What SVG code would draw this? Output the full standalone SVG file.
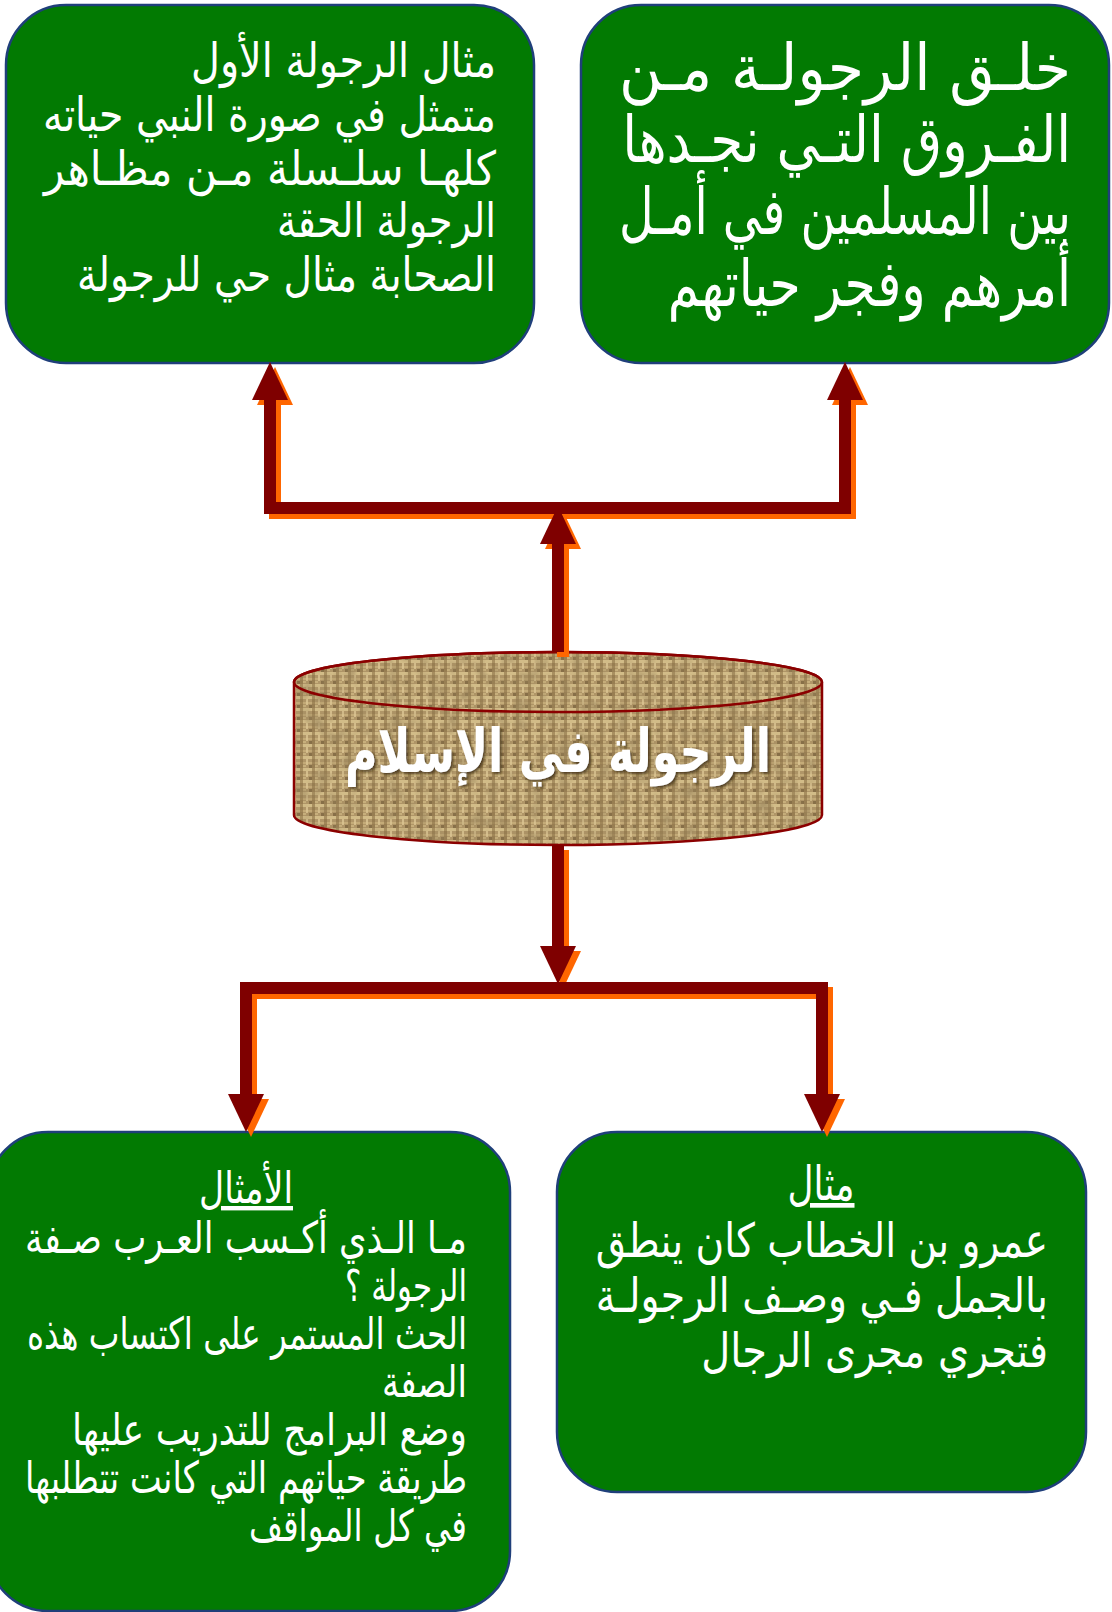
<svg xmlns="http://www.w3.org/2000/svg" width="1112" height="1612" viewBox="0 0 1112 1612">
<style>
.box{fill:#027A02;stroke:#1F3F7A;stroke-width:2.5}
.t{fill:#fff;font-family:"DejaVu Sans",sans-serif;direction:rtl;text-anchor:start}
.c{text-anchor:middle;text-decoration:underline}
.dk{fill:none;stroke:#7F0000;stroke-width:12}
.or{fill:none;stroke:#FF6600;stroke-width:12}
</style>
<defs>
<marker id="ahD" viewBox="0 -18 38 36" refX="0" refY="0" markerWidth="38" markerHeight="36" markerUnits="userSpaceOnUse" orient="auto-start-reverse"><path d="M0,-18 L38,0 L0,18 Z" fill="#7F0000"/></marker>
<marker id="ahO" viewBox="0 -18 38 36" refX="0" refY="0" markerWidth="38" markerHeight="36" markerUnits="userSpaceOnUse" orient="auto-start-reverse"><path d="M0,-18 L38,0 L0,18 Z" fill="#FF6600"/></marker>
<pattern id="burlap" width="12" height="12" patternUnits="userSpaceOnUse">
<rect width="12" height="12" fill="#B09668"/>
<rect x="0" y="0" width="12" height="3" fill="#D2BC88"/>
<rect x="0" y="6" width="12" height="2" fill="#C4AB78"/>
<rect x="0" y="0" width="3" height="12" fill="#85693F" opacity="0.55"/>
<rect x="6" y="3" width="2" height="6" fill="#DCC693" opacity="0.8"/>
<rect x="9" y="9" width="3" height="3" fill="#5E4828" opacity="0.5"/>
<rect x="3" y="9" width="3" height="2" fill="#CDB581" opacity="0.8"/>
</pattern>
<filter id="mottle" x="0" y="0" width="100%" height="100%">
<feTurbulence type="fractalNoise" baseFrequency="0.07" numOctaves="2" seed="3"/>
<feColorMatrix type="matrix" values="0 0 0 0 0.33  0 0 0 0 0.24  0 0 0 0 0.11  2.2 0 0 0 -1.0"/>
</filter>
<clipPath id="cylClip"><path d="M294,682 A264,30 0 0 1 822,682 V815 A264,30 0 0 1 294,815 Z"/></clipPath>
<filter id="sh" x="-10%" y="-20%" width="120%" height="140%"><feDropShadow dx="2" dy="2" stdDeviation="1.5" flood-color="#3a2a10" flood-opacity="0.8"/></filter>
</defs>

<g id="node-top-left">
<rect class="box" x="6" y="5" width="528" height="358" rx="60" ry="60"/>
<text class="t" font-size="47" x="496" y="77" textLength="305" lengthAdjust="spacingAndGlyphs">مثال الرجولة الأول</text>
<text class="t" font-size="47" x="496" y="131" textLength="453" lengthAdjust="spacingAndGlyphs">متمثل في صورة النبي حياته</text>
<text class="t" font-size="47" x="496" y="185" textLength="452" lengthAdjust="spacingAndGlyphs">كلهـا سلـسلة مـن مظـاهر</text>
<text class="t" font-size="47" x="496" y="237" textLength="219" lengthAdjust="spacingAndGlyphs">الرجولة الحقة</text>
<text class="t" font-size="47" x="496" y="291" textLength="419" lengthAdjust="spacingAndGlyphs">الصحابة مثال حي للرجولة</text>
</g>

<g id="node-top-right">
<rect class="box" x="581" y="5" width="528" height="358" rx="60" ry="60"/>
<g transform="matrix(0.8,0,0,1,214.2,0)">
<text class="t" font-size="64" x="1071" y="90" textLength="565" lengthAdjust="spacingAndGlyphs">خلـق الرجولـة مـن</text>
<text class="t" font-size="64" x="1071" y="162" textLength="561" lengthAdjust="spacingAndGlyphs">الفـروق التـي نجـدها</text>
<text class="t" font-size="64" x="1071" y="234" textLength="565" lengthAdjust="spacingAndGlyphs">بين المسلمين في أمـل</text>
<text class="t" font-size="64" x="1071" y="306" textLength="504" lengthAdjust="spacingAndGlyphs">أمرهم وفجر حياتهم</text>
</g>
</g>

<g id="node-center">
<path d="M294,682 A264,30 0 0 1 822,682 V815 A264,30 0 0 1 294,815 Z" fill="url(#burlap)"/>
<rect x="290" y="645" width="536" height="205" clip-path="url(#cylClip)" filter="url(#mottle)" opacity="0.7"/>
<path d="M294,682 A264,30 0 0 1 822,682 V815 A264,30 0 0 1 294,815 Z" fill="none" stroke="#8B0000" stroke-width="2.5"/>
<ellipse cx="558" cy="682" rx="264" ry="30" fill="none" stroke="#8B0000" stroke-width="2.5"/>
<text x="558" y="772" font-family="DejaVu Sans, sans-serif" font-weight="bold" font-size="60" fill="#fff" text-anchor="middle" textLength="426" lengthAdjust="spacingAndGlyphs" filter="url(#sh)">الرجولة في الإسلام</text>
</g>

<g id="node-bottom-left">
<rect class="box" x="-12" y="1132" width="522" height="479" rx="60" ry="60"/>
<text class="t c" x="246" y="1203" font-size="44" textLength="94" lengthAdjust="spacingAndGlyphs">الأمثال</text>
<text class="t" font-size="44" x="467" y="1253" textLength="442" lengthAdjust="spacingAndGlyphs">مـا الـذي أكـسب العـرب صـفة</text>
<text class="t" font-size="44" x="467" y="1301" textLength="122" lengthAdjust="spacingAndGlyphs">الرجولة ؟</text>
<text class="t" font-size="44" x="467" y="1349" textLength="440" lengthAdjust="spacingAndGlyphs">الحث المستمر على اكتساب هذه</text>
<text class="t" font-size="44" x="467" y="1397" textLength="85" lengthAdjust="spacingAndGlyphs">الصفة</text>
<text class="t" font-size="44" x="467" y="1445" textLength="395" lengthAdjust="spacingAndGlyphs">وضع البرامج للتدريب عليها</text>
<text class="t" font-size="44" x="467" y="1493" textLength="442" lengthAdjust="spacingAndGlyphs">طريقة حياتهم التي كانت تتطلبها</text>
<text class="t" font-size="44" x="467" y="1541" textLength="218" lengthAdjust="spacingAndGlyphs">في كل المواقف</text>
</g>

<g id="node-bottom-right">
<rect class="box" x="557" y="1132" width="529" height="360" rx="60" ry="60"/>
<text class="t c" x="821" y="1200" font-size="47" textLength="67" lengthAdjust="spacingAndGlyphs">مثال</text>
<g transform="matrix(0.85,0,0,1,157.2,0)">
<text class="t" font-size="47" x="1048" y="1257" textLength="532" lengthAdjust="spacingAndGlyphs">عمرو بن الخطاب كان ينطق</text>
<text class="t" font-size="47" x="1048" y="1312" textLength="532" lengthAdjust="spacingAndGlyphs">بالجمل فـي وصـف الرجولـة</text>
<text class="t" font-size="47" x="1048" y="1367" textLength="408" lengthAdjust="spacingAndGlyphs">فتجري مجرى الرجال</text>
</g>
</g>

<g id="connectors">
<g transform="translate(5,5)">
<path class="or" d="M558,652 V544" marker-end="url(#ahO)"/>
<path class="or" d="M270,400 V508 H845 V400" marker-start="url(#ahO)" marker-end="url(#ahO)"/>
<path class="or" d="M558,845 V946" marker-end="url(#ahO)"/>
<path class="or" d="M246,1094 V988 H822 V1094" marker-start="url(#ahO)" marker-end="url(#ahO)"/>
</g>
<path class="dk" d="M558,652 V544" marker-end="url(#ahD)"/>
<path class="dk" d="M270,400 V508 H845 V400" marker-start="url(#ahD)" marker-end="url(#ahD)"/>
<path class="dk" d="M558,845 V946" marker-end="url(#ahD)"/>
<path class="dk" d="M246,1094 V988 H822 V1094" marker-start="url(#ahD)" marker-end="url(#ahD)"/>
</g>
</svg>
